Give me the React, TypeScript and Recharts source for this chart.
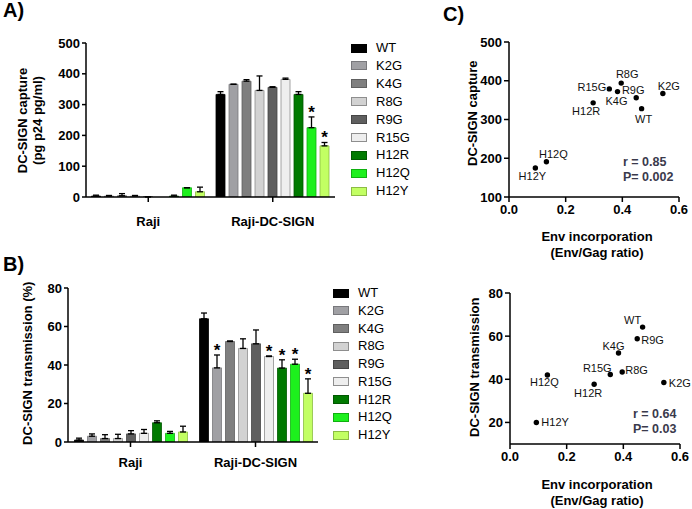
import React from "react";
import {
  BarChart,
  Bar,
  XAxis,
  YAxis,
  ErrorBar,
  LabelList,
  ScatterChart,
  Scatter,
} from "recharts";

const FONT = '"Liberation Sans", Arial, Helvetica, sans-serif';

const GROUPS = ["Raji", "Raji-DC-SIGN"];
const MUTANTS = ["WT", "K2G", "K4G", "R8G", "R9G", "R15G", "H12R", "H12Q", "H12Y"];
const COLORS = ["#000000", "#a0a0a4", "#7f7f7f", "#d2d2d2", "#5f5f5f", "#eeeeee", "#007a00", "#1df01d", "#c2ff63"];
const OUTLINES = ["#000000", "#78787c", "#5f5f5f", "#8e8e8e", "#454545", "#8e8e8e", "#005800", "#10b010", "#8cbc44"];

// panel A : capture (pg p24 pg/ml)
const CAPTURE_RAJI = [3, 3, 4, 3, 0.5, 0, 3, 30, 17];
const CAPTURE_RAJI_ERR = [3, 2, 7, 2, 0, 0, 3, 0, 15];
const CAPTURE_DC = [333, 366, 376, 346, 356, 382, 333, 225, 166];
const CAPTURE_DC_ERR = [9, 0, 5, 47, 2, 4, 9, 35, 11];
const CAPTURE_SIG = [
  [0, 0, 0, 0, 0, 0, 0, 0, 0],
  [0, 0, 0, 0, 0, 0, 0, 1, 1],
];

// panel B : transmission (%)
const TRANS_RAJI = [1, 3, 1.8, 1.8, 4.2, 4.5, 10, 4.5, 5.2];
const TRANS_RAJI_ERR = [1, 1.2, 2, 2.2, 1.7, 2, 1, 1, 3];
const TRANS_DC = [64, 38.5, 52.2, 48.6, 51, 44.4, 38.4, 40.4, 25.3];
const TRANS_DC_ERR = [3, 6.7, 0.3, 5, 7.2, 0.3, 4.3, 2.6, 7.5];
const TRANS_SIG = [
  [0, 0, 0, 0, 0, 0, 0, 0, 0],
  [0, 1, 0, 0, 0, 1, 1, 1, 1],
];

// panel C : correlations
const ENV_RATIO = [0.468, 0.543, 0.383, 0.396, 0.449, 0.354, 0.297, 0.132, 0.093];
const CAPTURE_C = [328, 367, 372, 394, 356, 379, 343, 191, 175];
const TRANS_C = [64.2, 38.5, 52.2, 43.4, 58.8, 42.2, 37.7, 42.0, 20];

const CAPTURE_TICKS = [0, 100, 200, 300, 400, 500];
const TRANS_TICKS = [0, 20, 40, 60, 80];
const CAPTURE_C_TICKS = [100, 200, 300, 400, 500];
const TRANS_C_TICKS = [20, 40, 60, 80];
const ENV_TICKS = [0, 0.2, 0.4, 0.6];

// label placement around each dot: [dx, dy, anchor]
const CAPTURE_LABEL_POS: Record<string, [number, number, string]> = {
  WT: [2, 10, "middle"],
  K2G: [6, -8, "middle"],
  K4G: [-1, 9, "middle"],
  R8G: [6, -9, "middle"],
  R9G: [-3, -8, "middle"],
  R15G: [-3, -2, "end"],
  H12R: [-7, 8, "middle"],
  H12Q: [7, -8, "middle"],
  H12Y: [-3, 8, "middle"],
};
const TRANS_LABEL_POS: Record<string, [number, number, string]> = {
  WT: [-10, -7, "middle"],
  K2G: [5, 0, "start"],
  K4G: [-5, -7, "middle"],
  R8G: [3, -2, "start"],
  R9G: [4, 1, "start"],
  R15G: [-13, -7, "middle"],
  H12R: [-6, 9, "middle"],
  H12Q: [-3, 7, "middle"],
  H12Y: [5, 0, "start"],
};

type Row = Record<string, any>;

function buildRows(raji: number[], rajiErr: number[], dc: number[], dcErr: number[]): Row[] {
  const vals = [raji, dc];
  const errs = [rajiErr, dcErr];
  return GROUPS.map((g, gi) => {
    const row: Row = { group: g };
    MUTANTS.forEach((m, i) => {
      row[m] = vals[gi][i];
      row[`${m}_err`] = [0, errs[gi][i]];
    });
    return row;
  });
}

const captureRows = buildRows(CAPTURE_RAJI, CAPTURE_RAJI_ERR, CAPTURE_DC, CAPTURE_DC_ERR);
const transRows = buildRows(TRANS_RAJI, TRANS_RAJI_ERR, TRANS_DC, TRANS_DC_ERR);

const captureScatter = MUTANTS.map((m, i) => ({ name: m, x: ENV_RATIO[i], y: CAPTURE_C[i] }));
const transScatter = MUTANTS.map((m, i) => ({ name: m, x: ENV_RATIO[i], y: TRANS_C[i] }));

const tickStyle = { fill: "#000", fontSize: 13, fontWeight: 700, fontFamily: FONT };
const axisStyle = { stroke: "#000", strokeWidth: 1.5 };

// asterisk above the error bar, pixel size of error taken from the bar's own height
const starLabel =
  (mi: number, vals: number[][], errs: number[][], sig: number[][]) => (props: any) => {
    const idx = props.index;
    if (!sig[idx] || !sig[idx][mi]) return null;
    const vb = props.viewBox ?? props;
    const { x, y, width, height } = vb;
    const v = vals[idx][mi];
    const errPx = v ? (Math.abs(height) * errs[idx][mi]) / v : 0;
    return (
      <text
        x={x + width / 2}
        y={y - errPx + 1}
        textAnchor="middle"
        fontSize={17}
        fontWeight={700}
        fontFamily={FONT}
        fill="#000"
      >
        *
      </text>
    );
  };

function GroupedBars({
  rows,
  vals,
  errs,
  sig,
  width,
  height,
  margin,
  yWidth,
  xHeight,
  domain,
  ticks,
  gap,
  labelGap,
}: {
  rows: Row[];
  vals: number[][];
  errs: number[][];
  sig: number[][];
  width: number;
  height: number;
  margin: { top: number; right: number; bottom: number; left: number };
  yWidth: number;
  xHeight: number;
  domain: [number, number];
  ticks: number[];
  gap: number;
  labelGap: number;
}) {
  return (
    <BarChart width={width} height={height} data={rows} margin={margin} barCategoryGap={gap} barGap={4}>
      <XAxis
        dataKey="group"
        height={xHeight}
        interval={0}
        axisLine={axisStyle}
        tickLine={axisStyle}
        tickSize={5}
        tickMargin={labelGap}
        tick={tickStyle}
      />
      <YAxis
        width={yWidth}
        type="number"
        domain={domain}
        ticks={ticks}
        interval={0}
        allowDataOverflow
        axisLine={axisStyle}
        tickLine={axisStyle}
        tickSize={4}
        tickMargin={2}
        tick={tickStyle}
      />
      {MUTANTS.map((m, i) => (
        <Bar
          key={m}
          dataKey={m}
          fill={COLORS[i]}
          stroke={OUTLINES[i]}
          strokeWidth={0.8}
          isAnimationActive={false}
        >
          <ErrorBar dataKey={`${m}_err`} width={3} stroke="#000" strokeWidth={1.3} direction="y" />
          <LabelList content={starLabel(i, vals, errs, sig)} />
        </Bar>
      ))}
    </BarChart>
  );
}

const pointShape = (pos: Record<string, [number, number, string]>) => (props: any) => {
  const { cx, cy, payload } = props;
  const [dx, dy, anchor] = pos[payload.name];
  return (
    <g>
      <circle cx={cx} cy={cy} r={2.7} fill="#000" />
      <text
        x={cx + dx}
        y={cy + dy}
        textAnchor={anchor as any}
        dominantBaseline="central"
        fontSize={11}
        fontFamily={FONT}
        fill="#111"
      >
        {payload.name}
      </text>
    </g>
  );
};

function Correlation({
  data,
  pos,
  domain,
  ticks,
  margin,
  xHeight,
}: {
  data: { name: string; x: number; y: number }[];
  pos: Record<string, [number, number, string]>;
  domain: [number, number];
  ticks: number[];
  margin: { top: number; right: number; bottom: number; left: number };
  xHeight: number;
}) {
  return (
    <ScatterChart width={252} height={240} margin={margin}>
      <XAxis
        type="number"
        dataKey="x"
        domain={[0, 0.6]}
        ticks={ENV_TICKS}
        interval={0}
        tickFormatter={(v: number) => v.toFixed(1)}
        height={xHeight}
        axisLine={axisStyle}
        tickLine={axisStyle}
        tickSize={5}
        tickMargin={3}
        tick={tickStyle}
      />
      <YAxis
        type="number"
        dataKey="y"
        width={69}
        domain={domain}
        ticks={ticks}
        interval={0}
        allowDataOverflow
        axisLine={axisStyle}
        tickLine={axisStyle}
        tickSize={5}
        tickMargin={2}
        tick={tickStyle}
      />
      <Scatter data={data} isAnimationActive={false} shape={pointShape(pos)} />
    </ScatterChart>
  );
}

function VTitle({ cx, cy, lines }: { cx: number; cy: number; lines: string[] }) {
  const w = 240;
  const lh = 14.5;
  const h = lh * lines.length;
  return (
    <div
      style={{
        position: "absolute",
        left: cx - w / 2,
        top: cy - h / 2,
        width: w,
        height: h,
        transform: "rotate(-90deg)",
        textAlign: "center",
        fontSize: 13,
        fontWeight: 700,
        lineHeight: `${lh}px`,
        whiteSpace: "nowrap",
      }}
    >
      {lines.map((l) => (
        <div key={l}>{l}</div>
      ))}
    </div>
  );
}

function HTitle({ cx, top, lines }: { cx: number; top: number; lines: string[] }) {
  return (
    <div
      style={{
        position: "absolute",
        left: cx - 110,
        top,
        width: 220,
        textAlign: "center",
        fontSize: 13,
        fontWeight: 700,
        lineHeight: "16px",
        whiteSpace: "nowrap",
      }}
    >
      {lines.map((l) => (
        <div key={l}>{l}</div>
      ))}
    </div>
  );
}

function SwatchLegend({ left, top, step }: { left: number; top: number; step: number }) {
  return (
    <div style={{ position: "absolute", left, top }}>
      {MUTANTS.map((m, i) => (
        <div
          key={m}
          style={{ position: "absolute", left: 0, top: i * step, height: 10, display: "flex", alignItems: "center" }}
        >
          <div
            style={{
              width: 16,
              height: 9,
              background: COLORS[i],
              boxSizing: "border-box",
              border: `1px solid ${OUTLINES[i]}`,
            }}
          />
          <span style={{ marginLeft: 9, fontSize: 13, lineHeight: "10px", whiteSpace: "nowrap" }}>{m}</span>
        </div>
      ))}
    </div>
  );
}

function Letter({ left, top, text }: { left: number; top: number; text: string }) {
  return (
    <div style={{ position: "absolute", left, top, fontSize: 20, fontWeight: 700, lineHeight: "20px" }}>{text}</div>
  );
}

function Stat({ left, top, lines }: { left: number; top: number; lines: string[] }) {
  return (
    <div
      style={{
        position: "absolute",
        left,
        top,
        fontSize: 12.5,
        fontWeight: 700,
        lineHeight: "15px",
        color: "#3a3a4c",
        whiteSpace: "nowrap",
      }}
    >
      {lines.map((l) => (
        <div key={l}>{l}</div>
      ))}
    </div>
  );
}

export default function App() {
  return (
    <div
      style={{
        position: "absolute",
        left: 0,
        top: 0,
        width: 692,
        height: 509,
        background: "#fff",
        fontFamily: FONT,
        color: "#000",
        overflow: "hidden",
      }}
    >
      <Letter left={3} top={0} text="A)" />
      <Letter left={3} top={254} text="B)" />
      <Letter left={443} top={4} text="C)" />

      {/* A) capture bars */}
      <div style={{ position: "absolute", left: 0, top: 0 }}>
        <GroupedBars
          rows={captureRows}
          vals={[CAPTURE_RAJI, CAPTURE_DC]}
          errs={[CAPTURE_RAJI_ERR, CAPTURE_DC_ERR]}
          sig={CAPTURE_SIG}
          width={340}
          height={240}
          margin={{ top: 43, right: 5, bottom: 0, left: 0 }}
          yWidth={86}
          xHeight={43}
          domain={[0, 500]}
          ticks={CAPTURE_TICKS}
          gap={5.5}
          labelGap={15}
        />
      </div>
      <VTitle cx={30} cy={120} lines={["DC-SIGN capture", "(pg p24 pg/ml)"]} />
      <SwatchLegend left={351} top={43} step={17.9} />

      {/* B) transmission bars */}
      <div style={{ position: "absolute", left: 0, top: 250 }}>
        <GroupedBars
          rows={transRows}
          vals={[TRANS_RAJI, TRANS_DC]}
          errs={[TRANS_RAJI_ERR, TRANS_DC_ERR]}
          sig={TRANS_SIG}
          width={330}
          height={230}
          margin={{ top: 38, right: 12, bottom: 0, left: 0 }}
          yWidth={68}
          xHeight={38}
          domain={[0, 80]}
          ticks={TRANS_TICKS}
          gap={6.5}
          labelGap={11}
        />
      </div>
      <VTitle cx={28} cy={363} lines={["DC-SIGN transmission (%)"]} />
      <SwatchLegend left={333} top={288} step={17.75} />

      {/* C) correlations */}
      <div style={{ position: "absolute", left: 440, top: 0 }}>
        <Correlation
          data={captureScatter}
          pos={CAPTURE_LABEL_POS}
          domain={[100, 500]}
          ticks={CAPTURE_C_TICKS}
          margin={{ top: 42, right: 13, bottom: 0, left: 0 }}
          xHeight={43}
        />
      </div>
      <VTitle cx={473} cy={113} lines={["DC-SIGN capture"]} />
      <HTitle cx={597} top={229} lines={["Env incorporation", "(Env/Gag ratio)"]} />
      <Stat left={623} top={155} lines={["r = 0.85", "P= 0.002"]} />

      <div style={{ position: "absolute", left: 440, top: 260 }}>
        <Correlation
          data={transScatter}
          pos={TRANS_LABEL_POS}
          domain={[10, 80]}
          ticks={TRANS_C_TICKS}
          margin={{ top: 33, right: 12, bottom: 0, left: 1 }}
          xHeight={56}
        />
      </div>
      <VTitle cx={475} cy={367} lines={["DC-SIGN transmission"]} />
      <HTitle cx={597} top={477} lines={["Env incorporation", "(Env/Gag ratio)"]} />
      <Stat left={633} top={407} lines={["r = 0.64", "P= 0.03"]} />
    </div>
  );
}
